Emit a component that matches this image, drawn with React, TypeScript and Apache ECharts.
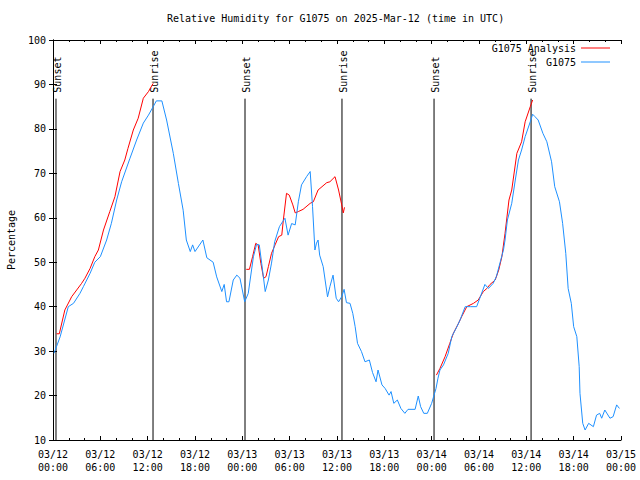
import React, { useEffect, useRef } from "react";
import * as echarts from "echarts";

const titleText = "Relative Humidity for G1075 on 2025-Mar-12 (time in UTC)";
const xTickLabels = [
  "03/12\n00:00", "03/12\n06:00", "03/12\n12:00", "03/12\n18:00",
  "03/13\n00:00", "03/13\n06:00", "03/13\n12:00", "03/13\n18:00",
  "03/14\n00:00", "03/14\n06:00", "03/14\n12:00", "03/14\n18:00",
  "03/15\n00:00",
];
const seriesNames = ["G1075 Analysis", "G1075"];

// hours since 03/12 00:00 UTC, relative humidity (%)
const analysisSeg1: number[][] = [
  [0.45, 33.9], [0.8, 33.9], [1.5, 39.25], [2.37, 42.25], [3.0, 43.75], [3.63, 45.25],
  [4.05, 46.4], [4.7, 48.6], [5.3, 51.25], [5.75, 52.75], [6.4, 57.25], [7.2, 61.4],
  [7.85, 64.75], [8.5, 70.4], [9.1, 73], [9.5, 75.6], [10.18, 79.75], [10.8, 82.4],
  [11.45, 86.9], [12.1, 88.4], [12.7, 90.25],
];
const analysisSeg2: number[][] = [
  [24.5, 48.4], [24.9, 48.4], [25.3, 51.25], [25.7, 54.25], [26.0, 53.9], [26.35, 49.75],
  [26.7, 46.4], [27.0, 46.75], [27.3, 49], [27.7, 52], [28.15, 53.9], [28.6, 55.75],
  [29.0, 56.1], [29.2, 59.5], [29.6, 65.5], [29.95, 65.1], [30.4, 62.9], [30.7, 61.1],
  [31.1, 61.4], [31.7, 61.9], [32.6, 63.25], [33.0, 63.6], [33.6, 66.25], [34.7, 67.9],
  [35.1, 68.1], [35.75, 69.25], [36.2, 66.25], [36.6, 62.9], [36.8, 61.1], [36.95, 62.35],
];
const analysisSeg3: number[][] = [
  [48.6, 24.6], [49.05, 26.1], [49.7, 28.75], [50.3, 31.75], [50.75, 34], [51.4, 36.25],
  [51.8, 37.75], [52.45, 40], [53.3, 40.75], [53.9, 41.5], [54.55, 43.4], [55.0, 44.1],
  [55.4, 45], [56.05, 46], [56.5, 48.25], [56.9, 51.25], [57.3, 56.5], [57.8, 64],
  [58.15, 66.25], [58.8, 74.5], [59.4, 77.1], [59.85, 81.6], [60.5, 85], [60.8, 86.5],
];
const observed: number[][] = [
  [0.13, 29.5], [0.9, 33.2], [1.94, 40], [2.6, 40.75], [3.42, 43], [3.85, 44.5], [4.7, 47.5],
  [5.3, 50], [6.0, 51.25], [6.8, 55], [7.4, 58.75], [8.07, 64], [8.7, 68.1], [9.76, 73.4],
  [10.6, 77.5], [11.45, 81.3], [12.1, 83.1], [12.7, 85], [13.1, 86.3], [13.8, 86.3],
  [14.4, 82], [15.25, 74.5], [15.9, 67.7], [16.5, 61.7], [16.9, 55], [17.4, 52.4],
  [17.7, 53.9], [18.0, 52.4], [19.0, 55], [19.5, 51], [20.3, 50], [20.75, 46.7],
  [21.4, 43.4], [21.7, 45], [22.0, 41.1], [22.3, 41.1], [22.85, 46], [23.3, 47.1],
  [23.7, 46.4], [24.3, 41.1], [24.75, 43], [25.4, 51.2], [25.8, 54], [26.15, 53.9],
  [26.45, 49.8], [26.9, 43.4], [27.3, 46], [27.7, 49.8], [28.1, 54.6], [28.7, 58],
  [29.1, 59.1], [29.4, 59.9], [29.8, 56.1], [30.25, 58.7], [30.7, 58.4], [31.1, 63.6],
  [31.5, 67.4], [32.16, 69.3], [32.6, 70.4], [32.9, 62.5], [33.2, 52.75], [33.4, 54.3],
  [33.6, 55], [33.8, 51.6], [34.25, 49], [34.8, 42.2], [35.1, 44.5], [35.5, 47.1],
  [35.9, 41.9], [36.2, 41.1], [36.6, 42.25], [36.9, 43.9], [37.2, 40.9], [37.65, 40.75],
  [38.0, 38.5], [38.3, 35.5], [38.6, 31.75], [39.1, 29.9], [39.55, 27.6], [40.1, 28],
  [40.5, 25.2], [40.95, 23.1], [41.2, 25.75], [41.7, 22.4], [42.1, 21.6], [42.6, 20.1],
  [42.85, 20.9], [43.2, 18.25], [43.65, 19], [44.1, 17.1], [44.6, 16], [45.0, 16.9],
  [45.9, 16.9], [46.3, 19.9], [46.6, 17.5], [47.0, 16], [47.45, 16], [48.0, 18.25],
  [48.55, 21.6], [48.8, 23.9], [49.05, 25.75], [49.5, 26.9], [50.1, 29.5], [50.55, 33.25],
  [51.2, 35.5], [51.6, 37], [52.25, 40], [52.9, 40], [53.7, 40], [54.1, 41.9],
  [54.75, 45], [55.2, 44.1], [55.8, 45.25], [56.2, 46.75], [56.7, 50.1], [57.1, 52.75],
  [57.3, 55], [57.6, 59.5], [58.15, 63.25], [58.6, 68.5], [59.0, 73], [59.4, 75.25],
  [59.85, 78.25], [60.5, 81.6], [60.8, 83.3], [61.1, 82.75], [61.5, 82], [62.1, 79],
  [62.6, 77.1], [63.2, 72.6], [63.6, 67], [64.2, 63.6], [64.6, 58.75], [65.0, 52],
  [65.3, 44.1], [65.7, 40.75], [66.0, 35.5], [66.4, 33.25], [66.7, 26.5], [66.8, 20.5],
  [67.15, 13.75], [67.45, 12.25], [67.9, 13.75], [68.5, 13], [68.9, 15.6], [69.3, 16],
  [69.55, 14.9], [69.95, 16.75], [70.6, 14.9], [71.0, 15.25], [71.45, 17.9], [71.8, 17.1],
];

const sunHours = [0.38, 12.68, 24.34, 36.63, 48.3, 60.6];
const sunLabels = ["Sunset", "Sunrise", "Sunset", "Sunrise", "Sunset", "Sunrise"];
const sunLineTop = 86.8;

const FONT = "'DejaVu Sans Mono', 'Liberation Mono', monospace";

export default function App() {
  const ref = useRef<HTMLDivElement>(null);
  useEffect(() => {
    if (!ref.current) return;
    const chart = echarts.init(ref.current, null, { renderer: "svg" });
    const analysisData: any[] = [...analysisSeg1, "-", ...analysisSeg2, "-", ...analysisSeg3];
    const axisCommon = {
      axisLine: { show: true, lineStyle: { color: "#000", width: 1 } },
      splitLine: { show: false },
    };
    chart.setOption({
      animation: false,
      backgroundColor: "#fff",
      title: {
        text: titleText,
        left: 167,
        top: 13,
        padding: 0,
        textStyle: { fontFamily: FONT, fontSize: 10, fontWeight: "normal", color: "#000" },
      },
      legend: {
        orient: "vertical",
        align: "right",
        right: 30,
        top: 42,
        padding: 0,
        itemGap: 2,
        itemWidth: 29,
        itemHeight: 1,
        textStyle: { fontFamily: FONT, fontSize: 10, color: "#000", lineHeight: 12 },
        data: [
          { name: seriesNames[0], icon: "rect" },
          { name: seriesNames[1], icon: "rect" },
        ],
      },
      grid: {
        left: 53,
        right: 19,
        top: 40,
        bottom: 40,
        containLabel: false,
        outerBoundsMode: "none",
      },
      xAxis: [
        {
          type: "value",
          min: 0,
          max: 72,
          interval: 6,
          ...axisCommon,
          axisTick: { show: true, inside: true, length: 4, lineStyle: { color: "#000" } },
          minorTick: { show: true, splitNumber: 3, length: 2, lineStyle: { color: "#000" } },
          axisLabel: {
            margin: 8,
            fontFamily: FONT,
            fontSize: 10,
            color: "#000",
            lineHeight: 13,
            formatter: (v: number) => xTickLabels[Math.round(v / 6)] ?? "",
          },
        },
        {
          type: "value",
          position: "top",
          min: 0,
          max: 72,
          interval: 6,
          ...axisCommon,
          axisTick: { show: true, inside: true, length: 4, lineStyle: { color: "#000" } },
          minorTick: { show: true, splitNumber: 3, length: 2, lineStyle: { color: "#000" } },
          axisLabel: { show: false },
        },
      ],
      yAxis: [
        {
          type: "value",
          min: 10,
          max: 100,
          interval: 10,
          ...axisCommon,
          name: "Percentage",
          nameLocation: "middle",
          nameGap: 37,
          nameRotate: 90,
          nameTextStyle: { fontFamily: FONT, fontSize: 10, color: "#000" },
          axisTick: { show: true, inside: true, length: 4, lineStyle: { color: "#000" } },
          axisLabel: { margin: 7, fontFamily: FONT, fontSize: 10, color: "#000" },
        },
        {
          type: "value",
          position: "right",
          min: 10,
          max: 100,
          interval: 10,
          ...axisCommon,
          axisTick: { show: true, inside: true, length: 4, lineStyle: { color: "#000" } },
          axisLabel: { show: false },
        },
      ],
      series: [
        {
          type: "custom",
          name: "sun",
          xAxisIndex: 0,
          yAxisIndex: 0,
          silent: true,
          data: sunHours.map((h) => [h]),
          renderItem: (params: any, api: any) => {
            const h = api.value(0);
            const top = api.coord([h, sunLineTop]);
            const bot = api.coord([h, 10]);
            return {
              type: "group",
              children: [
                {
                  type: "line",
                  shape: { x1: top[0], y1: top[1], x2: bot[0], y2: bot[1] },
                  style: { stroke: "#000", lineWidth: 1 },
                },
                {
                  type: "text",
                  x: top[0] + 1.5,
                  y: top[1] - 6,
                  rotation: Math.PI / 2,
                  style: {
                    text: sunLabels[params.dataIndex],
                    fontFamily: FONT,
                    fontSize: 10,
                    fill: "#000",
                    align: "left",
                    verticalAlign: "middle",
                  },
                },
              ],
            };
          },
        },
        {
          type: "line",
          name: seriesNames[0],
          data: analysisData,
          showSymbol: false,
          connectNulls: false,
          color: "#ff0000",
          lineStyle: { color: "#ff0000", width: 1 },
        },
        {
          type: "line",
          name: seriesNames[1],
          data: observed,
          showSymbol: false,
          color: "#1e90ff",
          lineStyle: { color: "#1e90ff", width: 1 },
        },
      ],
    });
    return () => chart.dispose();
  }, []);
  return (
    <div
      ref={ref}
      style={{ position: "fixed", left: 0, top: 0, width: 640, height: 480 }}
    />
  );
}
